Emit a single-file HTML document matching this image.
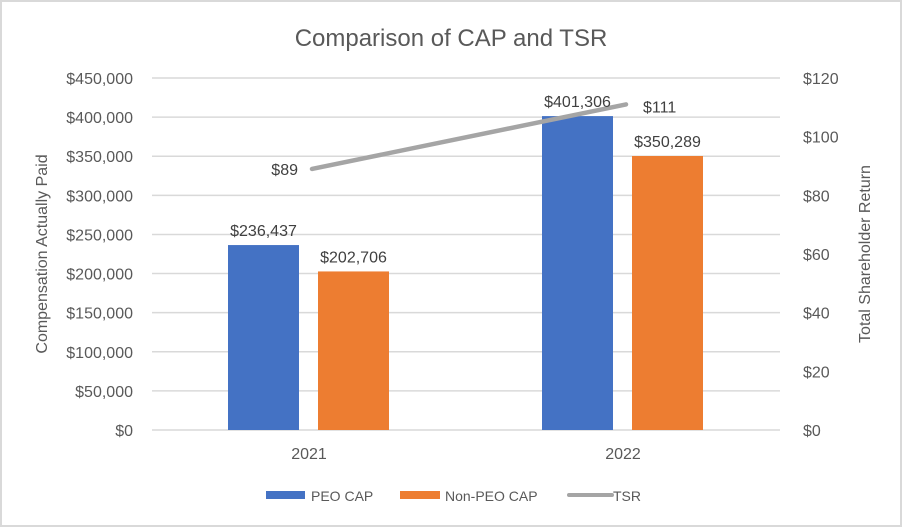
<!DOCTYPE html>
<html><head><meta charset="utf-8"><style>
body{margin:0;background:#fff}
svg{font-family:"Liberation Sans",sans-serif;display:block}
</style></head><body>
<svg id="c" width="902" height="527" viewBox="0 0 902 527">
<rect x="1" y="1" width="900" height="525" fill="#fff" stroke="#d9d9d9" stroke-width="2"/>
<text x="451" y="46" text-anchor="middle" font-size="24" fill="#595959">Comparison of CAP and TSR</text>
<g id="grid"></g><g id="bars"></g><g id="line"></g><g id="labels"></g>
<text transform="translate(47,254) rotate(-90)" text-anchor="middle" font-size="16" fill="#595959">Compensation Actually Paid</text>
<text transform="translate(870,254) rotate(-90)" text-anchor="middle" font-size="16" fill="#595959">Total Shareholder Return</text>
<g>
<rect x="266" y="491" width="39" height="8" fill="#4472c4"/>
<text x="311" y="501" font-size="14" fill="#595959">PEO CAP</text>
<rect x="400" y="491" width="40" height="8" fill="#ed7d31"/>
<text x="445" y="501" font-size="14" fill="#595959">Non-PEO CAP</text>
<line x1="569" y1="495" x2="612" y2="495" stroke="#a5a5a5" stroke-width="4" stroke-linecap="round"/>
<text x="613" y="501" font-size="14" fill="#595959">TSR</text>
</g>
</svg>
<script>
const categories=["2021","2022"];
const peoCap=[236437,401306];
const nonPeoCap=[202706,350289];
const tsr=[89,111];
const leftTicks=[0,50000,100000,150000,200000,250000,300000,350000,400000,450000];
const rightTicks=[0,20,40,60,80,100,120];
const NS="http://www.w3.org/2000/svg";
const L=152,R=780,T=78,B=430;
const yL=v=>B-(v/450000)*(B-T);
const yR=v=>B-(v/120)*(B-T);
const bw=(R-L)/categories.length;
const xC=i=>L+bw*(i+0.5);
const fmt=v=>"$"+v.toLocaleString("en-US");
function mk(tag,attrs,parent,text){const e=document.createElementNS(NS,tag);for(const k in attrs)e.setAttribute(k,attrs[k]);if(text!==undefined)e.textContent=text;document.getElementById(parent).appendChild(e);return e;}
leftTicks.forEach(t=>{
 const g=mk("line",{x1:L,x2:R,y1:yL(t),y2:yL(t),stroke:"#d9d9d9","stroke-width":1.5},"grid");
 
 
 const tx=mk("text",{x:133,y:yL(t)+6,"text-anchor":"end","font-size":16,fill:"#595959"},"grid",fmt(t));
 
 
});
rightTicks.forEach(t=>{
 const tx=mk("text",{x:803,y:yR(t)+6,"font-size":16,fill:"#595959"},"grid","$"+t);
 
 
});
categories.forEach((c,i)=>{
 const cx=xC(i);
 const tx=mk("text",{x:cx,y:459,"text-anchor":"middle","font-size":16,fill:"#595959"},"labels",c);
 
 
 const bwid=71;
 [[peoCap[i],cx-81,"#4472c4","peo-cap-bar"],[nonPeoCap[i],cx+9,"#ed7d31","non-peo-cap-bar"]].forEach(([v,x,col,nm])=>{
  const b=mk("rect",{x:x,y:yL(v),width:bwid,height:B-yL(v),fill:col},"bars");
  
  
  const l=mk("text",{x:x+bwid/2,y:yL(v)-9,"text-anchor":"middle","font-size":16,fill:"#404040"},"labels",fmt(v));
  
  
 });
});
const pts=tsr.map((v,i)=>[xC(i)+3,yR(v)]);
const pl=mk("polyline",{points:pts.map(p=>p.join(",")).join(" "),fill:"none",stroke:"#a5a5a5","stroke-width":4.5,"stroke-linecap":"round"},"line");


tsr.forEach((v,i)=>{
 const [x,y]=pts[i];
 const l=mk("text",{x:i===0?x-14:x+17,y:i===0?y+6:y+8,"text-anchor":i===0?"end":"start","font-size":16,fill:"#404040"},"labels","$"+v);
 
 
});
</script>
</body></html>
